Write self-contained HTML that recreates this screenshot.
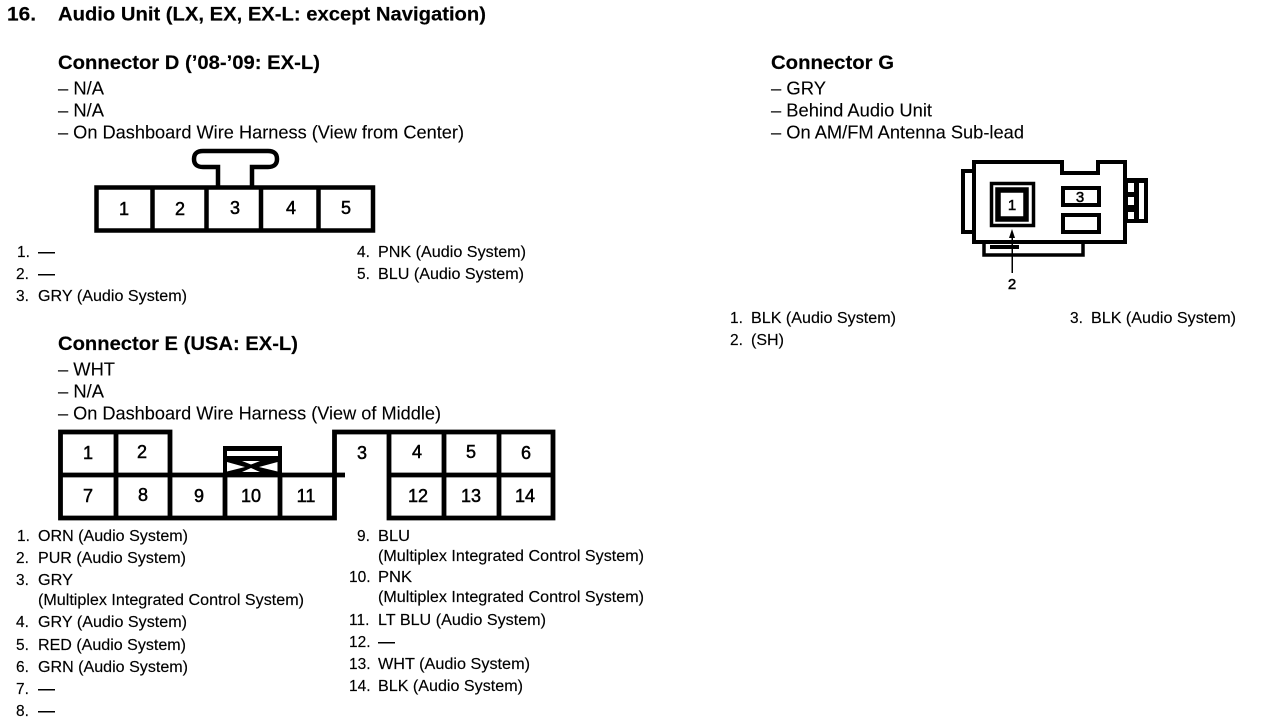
<!DOCTYPE html>
<html><head><meta charset="utf-8"><style>
html,body{margin:0;padding:0;background:#fff;width:1264px;height:724px;overflow:hidden}
svg{display:block}
text{font-family:"Liberation Sans",sans-serif;fill:#000}
.h{font-size:19.500px;font-weight:bold;stroke:#000;stroke-width:.15px}
.b{font-size:18px;stroke:#000;stroke-width:.1px}
.l{font-size:15.500px;stroke:#000;stroke-width:.15px}
.n{font-size:18px;text-anchor:middle;stroke:#000;stroke-width:.5px}
.k{fill:none;stroke:#000}
</style></head><body>
<svg width="1264" height="724" viewBox="0 0 1264 724" xmlns="http://www.w3.org/2000/svg">
<text class="h" x="7" y="20.500" textLength="29" lengthAdjust="spacingAndGlyphs">16.</text>
<text class="h" x="58" y="20.500" textLength="428" lengthAdjust="spacingAndGlyphs">Audio Unit (LX, EX, EX-L: except Navigation)</text>

<text class="h" x="58" y="69" textLength="262" lengthAdjust="spacingAndGlyphs">Connector D (’08-’09: EX-L)</text>
<text class="b" x="58" y="94.500" textLength="46" lengthAdjust="spacingAndGlyphs">– N/A</text>
<text class="b" x="58" y="116.500" textLength="46" lengthAdjust="spacingAndGlyphs">– N/A</text>
<text class="b" x="58" y="138.500" textLength="406" lengthAdjust="spacingAndGlyphs">– On Dashboard Wire Harness (View from Center)</text>

<path class="k" stroke-width="4.500" d="M218 186V167H203Q194 167 194 159Q194 151 203 151H268Q277 151 277 159Q277 167 268 167H252V186"/>
<rect class="k" stroke-width="4.500" x="96.500" y="187.500" width="276.500" height="43"/>
<path class="k" stroke-width="4.500" d="M152.500 187V231M206.500 187V231M261 187V231M318.500 187V231"/>
<text class="n" x="124" y="215">1</text><text class="n" x="180" y="215">2</text><text class="n" x="235" y="214">3</text><text class="n" x="291" y="214">4</text><text class="n" x="346" y="214">5</text>

<text class="l" x="17" y="257">1.</text><rect x="38" y="252" width="17" height="1.500"/>
<text class="l" x="16" y="279">2.</text><rect x="38" y="274" width="17" height="1.500"/>
<text class="l" x="16" y="301">3.</text><text class="l" x="38" y="301" textLength="149" lengthAdjust="spacingAndGlyphs">GRY (Audio System)</text>
<text class="l" x="357" y="257">4.</text><text class="l" x="378" y="257" textLength="148" lengthAdjust="spacingAndGlyphs">PNK (Audio System)</text>
<text class="l" x="357" y="279">5.</text><text class="l" x="378" y="279" textLength="146" lengthAdjust="spacingAndGlyphs">BLU (Audio System)</text>

<text class="h" x="58" y="350" textLength="240" lengthAdjust="spacingAndGlyphs">Connector E (USA: EX-L)</text>
<text class="b" x="58" y="375.500" textLength="57" lengthAdjust="spacingAndGlyphs">– WHT</text>
<text class="b" x="58" y="397.500" textLength="46" lengthAdjust="spacingAndGlyphs">– N/A</text>
<text class="b" x="58" y="419.500" textLength="383" lengthAdjust="spacingAndGlyphs">– On Dashboard Wire Harness (View of Middle)</text>

<g stroke-width="4.800" fill="none" stroke="#000">
<path d="M170 475V432H60.500V518H334.500V432H553V518H389V475H553M60 475H345M116 432V518M170 475V518M225 475V518M280 475V518M444 432V518M499 432V518M389 432V475"/>
</g>
<rect x="223" y="446" width="59" height="30"/><rect x="227" y="451" width="51" height="5" fill="#fff"/>
<path d="M227 462L245 467L227 471.500ZM277.500 462L259 467L277.500 471.500ZM242 461H260L251 464.500ZM242 472H260L251 468Z" fill="#fff"/>
<text class="n" x="88" y="459">1</text><text class="n" x="142" y="458">2</text><text class="n" x="362" y="459">3</text><text class="n" x="417" y="458">4</text><text class="n" x="471" y="458">5</text><text class="n" x="526" y="459">6</text>
<text class="n" x="88" y="502">7</text><text class="n" x="143" y="501">8</text><text class="n" x="199" y="502">9</text><text class="n" x="251" y="502">10</text><text class="n" x="306" y="502">11</text><text class="n" x="418" y="502">12</text><text class="n" x="471" y="502">13</text><text class="n" x="525" y="502">14</text>

<text class="l" x="17" y="541">1.</text><text class="l" x="38" y="541" textLength="150" lengthAdjust="spacingAndGlyphs">ORN (Audio System)</text>
<text class="l" x="16" y="563">2.</text><text class="l" x="38" y="563" textLength="148" lengthAdjust="spacingAndGlyphs">PUR (Audio System)</text>
<text class="l" x="16" y="585">3.</text><text class="l" x="38" y="585" textLength="35" lengthAdjust="spacingAndGlyphs">GRY</text>
<text class="l" x="38" y="605" textLength="266" lengthAdjust="spacingAndGlyphs">(Multiplex Integrated Control System)</text>
<text class="l" x="16" y="627">4.</text><text class="l" x="38" y="627" textLength="149" lengthAdjust="spacingAndGlyphs">GRY (Audio System)</text>
<text class="l" x="16" y="650">5.</text><text class="l" x="38" y="650" textLength="148" lengthAdjust="spacingAndGlyphs">RED (Audio System)</text>
<text class="l" x="16" y="672">6.</text><text class="l" x="38" y="672" textLength="150" lengthAdjust="spacingAndGlyphs">GRN (Audio System)</text>
<text class="l" x="16" y="694">7.</text><rect x="38" y="689" width="17" height="1.500"/>
<text class="l" x="16" y="716">8.</text><rect x="38" y="711" width="17" height="1.500"/>

<text class="l" x="357" y="541">9.</text><text class="l" x="378" y="541" textLength="32" lengthAdjust="spacingAndGlyphs">BLU</text>
<text class="l" x="378" y="561" textLength="266" lengthAdjust="spacingAndGlyphs">(Multiplex Integrated Control System)</text>
<text class="l" x="349" y="582">10.</text><text class="l" x="378" y="582" textLength="34" lengthAdjust="spacingAndGlyphs">PNK</text>
<text class="l" x="378" y="602" textLength="266" lengthAdjust="spacingAndGlyphs">(Multiplex Integrated Control System)</text>
<text class="l" x="349" y="625">11.</text><text class="l" x="378" y="625" textLength="168" lengthAdjust="spacingAndGlyphs">LT BLU (Audio System)</text>
<text class="l" x="349" y="647">12.</text><rect x="378" y="642" width="17" height="1.500"/>
<text class="l" x="349" y="669">13.</text><text class="l" x="378" y="669" textLength="152" lengthAdjust="spacingAndGlyphs">WHT (Audio System)</text>
<text class="l" x="349" y="691">14.</text><text class="l" x="378" y="691" textLength="145" lengthAdjust="spacingAndGlyphs">BLK (Audio System)</text>

<text class="h" x="771" y="69" textLength="123" lengthAdjust="spacingAndGlyphs">Connector G</text>
<text class="b" x="771" y="94.500" textLength="55" lengthAdjust="spacingAndGlyphs">– GRY</text>
<text class="b" x="771" y="116.500" textLength="161" lengthAdjust="spacingAndGlyphs">– Behind Audio Unit</text>
<text class="b" x="771" y="138.500" textLength="253" lengthAdjust="spacingAndGlyphs">– On AM/FM Antenna Sub-lead</text>

<path class="k" stroke-width="4" d="M974 162H1062V173H1098V162H1125V242H974Z"/>
<path class="k" stroke-width="4" d="M973 171H963V232H973"/>
<path class="k" stroke-width="3.500" d="M984 243V255H1083V243"/>
<rect x="990" y="245" width="29" height="4"/>
<path fill-rule="evenodd" d="M1127 178H1148V223H1127ZM1128 183V192H1134V183ZM1128 197V205H1134V197ZM1128 212V219H1134V212ZM1139 183V219H1144V183Z"/>
<rect class="k" stroke-width="3.500" x="991.500" y="183.500" width="42" height="42"/>
<rect class="k" stroke-width="5.500" x="998" y="190" width="28" height="29"/>
<text class="n" x="1012" y="210" style="font-size:15px">1</text>
<rect class="k" stroke-width="4" x="1063" y="188" width="36" height="17"/>
<text class="n" x="1080" y="202" style="font-size:15px">3</text>
<rect class="k" stroke-width="4" x="1063" y="215" width="36" height="17"/>
<path d="M1012 229L1015 238H1009Z"/><rect x="1011.500" y="236" width="1.500" height="37"/>
<text class="n" x="1012" y="289" style="font-size:15px">2</text>

<text class="l" x="730" y="323">1.</text><text class="l" x="751" y="323" textLength="145" lengthAdjust="spacingAndGlyphs">BLK (Audio System)</text>
<text class="l" x="730" y="345">2.</text><text class="l" x="751" y="345" textLength="33" lengthAdjust="spacingAndGlyphs">(SH)</text>
<text class="l" x="1070" y="323">3.</text><text class="l" x="1091" y="323" textLength="145" lengthAdjust="spacingAndGlyphs">BLK (Audio System)</text>
</svg>
</body></html>
